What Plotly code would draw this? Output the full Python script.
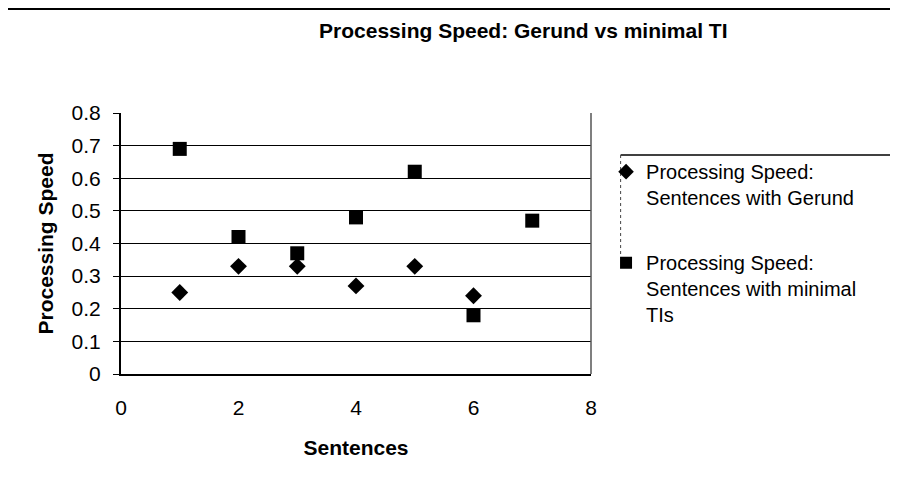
import plotly.graph_objects as go

sentences_gerund = [1, 2, 3, 4, 5, 6]
speed_gerund = [0.25, 0.33, 0.33, 0.27, 0.33, 0.24]
sentences_ti = [1, 2, 3, 4, 5, 6, 7]
speed_ti = [0.69, 0.42, 0.37, 0.48, 0.62, 0.18, 0.47]

y_ticks = [0, 0.1, 0.2, 0.3, 0.4, 0.5, 0.6, 0.7, 0.8]
y_tick_text = ["0", "0.1", "0.2", "0.3", "0.4", "0.5", "0.6", "0.7", "0.8"]
x_ticks = [0, 2, 4, 6, 8]

FONT = "Arial, 'Liberation Sans', sans-serif"

fig = go.Figure()
fig.add_trace(go.Scatter(
    x=sentences_gerund, y=speed_gerund, mode="markers",
    name="Processing Speed:<br>Sentences with Gerund", legendgroup="g1",
    marker=dict(symbol="diamond", size=13, color="black"),
    hoverinfo="skip",
))
fig.add_trace(go.Scatter(
    x=sentences_ti, y=speed_ti, mode="markers",
    name="Processing Speed:<br>Sentences with minimal<br>TIs", legendgroup="g2",
    marker=dict(symbol="square", size=14, color="black"),
    hoverinfo="skip",
))

fig.update_layout(
    width=890, height=478,
    margin=dict(l=113, r=307, t=105, b=112, autoexpand=False),
    paper_bgcolor="white", plot_bgcolor="white",
    font=dict(family=FONT, color="black", size=20),
    title=dict(text="<b>Processing Speed: Gerund vs minimal TI</b>",
               x=0.579, xanchor="center", y=0.952, yanchor="middle",
               font=dict(size=21, family=FONT, color="black")),
    xaxis=dict(range=[0, 8], tickvals=x_ticks, showgrid=False, zeroline=False,
               showline=True, linecolor="black", linewidth=2,
               ticks="", ticklabelstandoff=14, automargin=False,
               title=dict(text="<b>Sentences</b>", font=dict(size=21), standoff=22),
               tickfont=dict(size=21)),
    yaxis=dict(range=[0, 0.8], tickvals=y_ticks, ticktext=y_tick_text,
               showgrid=True, gridcolor="black", gridwidth=1, zeroline=False,
               showline=True, linecolor="black", linewidth=2,
               ticks="outside", ticklen=6, tickcolor="black", tickwidth=1,
               ticklabelstandoff=8, automargin=False,
               title=dict(text="<b>Processing Speed</b>", font=dict(size=21), standoff=12),
               tickfont=dict(size=21)),
    legend=dict(x=1.032, y=0.85, xanchor="left", yanchor="top",
                xref="paper", yref="paper",
                borderwidth=0, bgcolor="rgba(0,0,0,0)",
                font=dict(size=20), tracegroupgap=36, valign="top",
                itemsizing="constant"),
    showlegend=True,
)
# right border of plot area
fig.add_shape(type="line", xref="paper", yref="paper", x0=1, x1=1, y0=0, y1=1,
              line=dict(color="#555555", width=1.5))
# legend frame
fig.add_shape(type="line", xref="paper", yref="paper", x0=1.063, x1=1.70, y0=0.839, y1=0.839,
              line=dict(color="black", width=1.5))
fig.add_shape(type="line", xref="paper", yref="paper", x0=1.063, x1=1.063, y0=0.839, y1=0.45,
              line=dict(color="#444444", width=1, dash="dot"))
# top rule
fig.add_shape(type="line", xref="paper", yref="paper", x0=-0.5, x1=1.7, y0=1.398, y1=1.398,
              line=dict(color="black", width=2))
fig.write_html("out.html")
